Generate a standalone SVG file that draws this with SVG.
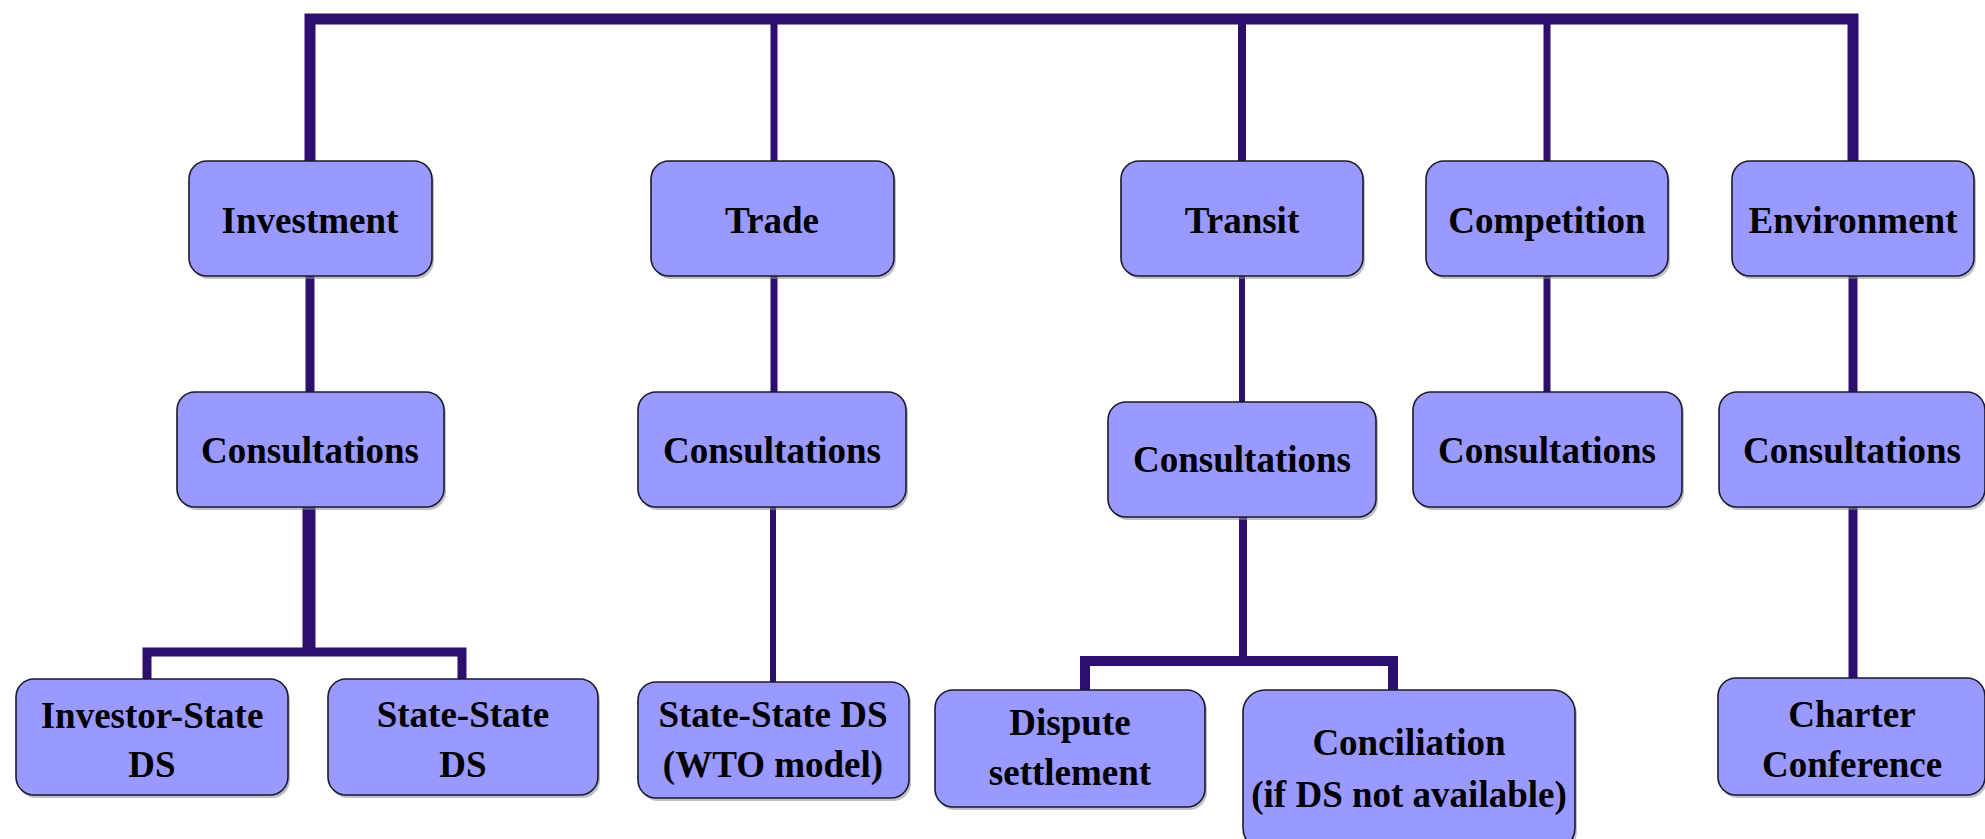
<svg xmlns="http://www.w3.org/2000/svg" width="1985" height="839" viewBox="0 0 1985 839">
<style>
.box{fill:#9999FF;stroke:#1a1a2a;stroke-width:1.6}
.sh{fill:#8a8a9a;opacity:0.55}
.ln{fill:none;stroke:#2D0F6E;stroke-linecap:butt;stroke-linejoin:miter}
text{font-family:"Liberation Serif","Times New Roman",serif;font-weight:bold;font-size:37px;fill:#000;text-anchor:middle}
</style>
<rect width="1985" height="839" fill="#ffffff"/>
<g id="connectors">
<path class="ln" d="M310 161 V19 H1853 V161" stroke-width="11"/>
<path class="ln" d="M774 19 V161" stroke-width="7"/>
<path class="ln" d="M1242 19 V161" stroke-width="8"/>
<path class="ln" d="M1547 19 V161" stroke-width="7"/>
<path class="ln" d="M310 276 V392" stroke-width="9"/>
<path class="ln" d="M774 276 V392" stroke-width="7"/>
<path class="ln" d="M1242 276 V402" stroke-width="6"/>
<path class="ln" d="M1547 276 V392" stroke-width="7"/>
<path class="ln" d="M1853 276 V392" stroke-width="9"/>
<path class="ln" d="M309 507 V652" stroke-width="13"/>
<path class="ln" d="M147 679 V652 H462 V679" stroke-width="9"/>
<path class="ln" d="M773 507 V682" stroke-width="6"/>
<path class="ln" d="M1243 517 V661" stroke-width="8"/>
<path class="ln" d="M1085 690 V661 H1393 V690" stroke-width="10"/>
<path class="ln" d="M1853 507 V678" stroke-width="9"/>
</g>
<g id="investment">
<rect class="sh" x="191" y="164" width="243" height="115" rx="18"/>
<rect class="box" x="189" y="161" width="243" height="115" rx="18"/>
<text x="310" y="233">Investment</text>
</g>
<g id="trade">
<rect class="sh" x="653" y="164" width="243" height="115" rx="18"/>
<rect class="box" x="651" y="161" width="243" height="115" rx="18"/>
<text x="772" y="233">Trade</text>
</g>
<g id="transit">
<rect class="sh" x="1123" y="164" width="242" height="115" rx="18"/>
<rect class="box" x="1121" y="161" width="242" height="115" rx="18"/>
<text x="1242" y="233">Transit</text>
</g>
<g id="competition">
<rect class="sh" x="1428" y="164" width="242" height="115" rx="18"/>
<rect class="box" x="1426" y="161" width="242" height="115" rx="18"/>
<text x="1547" y="233">Competition</text>
</g>
<g id="environment">
<rect class="sh" x="1734" y="164" width="242" height="115" rx="18"/>
<rect class="box" x="1732" y="161" width="242" height="115" rx="18"/>
<text x="1853" y="233">Environment</text>
</g>
<g id="investment-consultations">
<rect class="sh" x="179" y="395" width="267" height="115" rx="18"/>
<rect class="box" x="177" y="392" width="267" height="115" rx="18"/>
<text x="310" y="463">Consultations</text>
</g>
<g id="trade-consultations">
<rect class="sh" x="640" y="395" width="268" height="115" rx="18"/>
<rect class="box" x="638" y="392" width="268" height="115" rx="18"/>
<text x="772" y="463">Consultations</text>
</g>
<g id="transit-consultations">
<rect class="sh" x="1110" y="405" width="268" height="115" rx="18"/>
<rect class="box" x="1108" y="402" width="268" height="115" rx="18"/>
<text x="1242" y="472">Consultations</text>
</g>
<g id="competition-consultations">
<rect class="sh" x="1415" y="395" width="269" height="115" rx="18"/>
<rect class="box" x="1413" y="392" width="269" height="115" rx="18"/>
<text x="1547" y="463">Consultations</text>
</g>
<g id="environment-consultations">
<rect class="sh" x="1721" y="395" width="266" height="115" rx="18"/>
<rect class="box" x="1719" y="392" width="266" height="115" rx="18"/>
<text x="1852" y="463">Consultations</text>
</g>
<g id="investor-state-ds">
<rect class="sh" x="18" y="682" width="272" height="116" rx="18"/>
<rect class="box" x="16" y="679" width="272" height="116" rx="18"/>
<text x="152" y="728">Investor-State</text>
<text x="152" y="777">DS</text>
</g>
<g id="state-state-ds">
<rect class="sh" x="330" y="682" width="270" height="116" rx="18"/>
<rect class="box" x="328" y="679" width="270" height="116" rx="18"/>
<text x="463" y="727">State-State</text>
<text x="463" y="777">DS</text>
</g>
<g id="state-state-wto">
<rect class="sh" x="640" y="685" width="271" height="116" rx="18"/>
<rect class="box" x="638" y="682" width="271" height="116" rx="18"/>
<text x="773" y="727">State-State DS</text>
<text x="773" y="777">(WTO model)</text>
</g>
<g id="dispute-settlement">
<rect class="sh" x="937" y="693" width="270" height="117" rx="18"/>
<rect class="box" x="935" y="690" width="270" height="117" rx="18"/>
<text x="1070" y="735">Dispute</text>
<text x="1070" y="785">settlement</text>
</g>
<g id="conciliation">
<rect class="sh" x="1245" y="693" width="332" height="160" rx="22"/>
<rect class="box" x="1243" y="690" width="332" height="160" rx="22"/>
<text x="1409" y="755">Conciliation</text>
<text x="1409" y="807">(if DS not available)</text>
</g>
<g id="charter-conference">
<rect class="sh" x="1720" y="681" width="267" height="117" rx="18"/>
<rect class="box" x="1718" y="678" width="267" height="117" rx="18"/>
<text x="1852" y="727">Charter</text>
<text x="1852" y="777">Conference</text>
</g>
</svg>
